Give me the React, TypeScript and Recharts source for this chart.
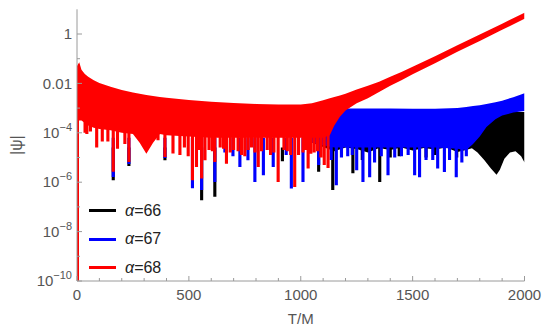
import { ComposedChart, Area, XAxis, YAxis, Legend } from 'recharts'

const FRAME = '#9a9a9a'
const TICK_TEXT = '#555555'
const FONT = '"Liberation Sans", Arial, sans-serif'

const RED = '#ff0000'
const BLUE = '#0000ff'
const BLACK = '#000000'

// envelopes of the oscillating |psi|, given as log10 values
const redT = [0, 10, 20, 35, 50, 75, 100, 150, 200, 250, 280, 310, 340, 370, 400, 500, 600, 700, 800, 900, 1000, 1050, 1100, 1130, 1150, 1175, 1200, 1250, 1300, 1350, 1400, 1450, 1500, 1600, 1700, 1800, 1900, 2000]
const redHi = [-1.3, -1.14, -1.45, -1.62, -1.73, -1.87, -1.98, -2.14, -2.27, -2.37, -2.42, -2.47, -2.51, -2.55, -2.58, -2.67, -2.74, -2.79, -2.83, -2.85, -2.85, -2.8, -2.68, -2.6, -2.55, -2.49, -2.42, -2.25, -2.1, -1.93, -1.73, -1.54, -1.33, -0.9, -0.46, -0.02, 0.42, 0.86]
const redLo = [-3.5, -3.5, -3.5, -3.6, -3.7, -3.8, -3.85, -3.9, -4.0, -4.05, -4.4, -4.85, -4.4, -4.05, -4.1, -4.15, -4.2, -4.2, -4.2, -4.2, -4.2, -4.2, -4.2, -4.1, -3.7, -3.35, -3.1, -2.8, -2.6, -2.35, -2.1, -1.87, -1.63, -1.18, -0.72, -0.28, 0.17, 0.62]

const blueT = [1050, 1100, 1150, 1200, 1300, 1400, 1500, 1600, 1700, 1740, 1770, 1800, 1830, 1870, 1900, 1950, 2000]
const blueHi = [-2.9, -2.95, -3.0, -3.02, -3.02, -3.02, -3.03, -3.03, -3.0, -2.96, -2.92, -2.88, -2.83, -2.76, -2.7, -2.56, -2.4]
const blueLo = [-4.4, -4.5, -4.6, -4.6, -4.6, -4.6, -4.6, -4.6, -4.65, -4.7, -4.45, -4.15, -3.77, -3.45, -3.3, -3.18, -3.12]

const blackT = [1050, 1150, 1200, 1250, 1300, 1350, 1400, 1450, 1500, 1550, 1600, 1650, 1700, 1730, 1765, 1790, 1820, 1850, 1875, 1890, 1910, 1935, 1960, 1985, 2000]
const blackHi = [-3.1, -3.16, -3.16, -3.16, -3.16, -3.16, -3.16, -3.16, -3.16, -3.16, -3.16, -3.16, -3.16, -3.16, -3.16, -3.16, -3.16, -3.16, -3.16, -3.16, -3.16, -3.16, -3.16, -3.16, -3.16]
const blackLo = [-4.4, -4.75, -4.6, -4.66, -4.8, -4.62, -4.7, -4.6, -4.72, -4.62, -4.68, -4.6, -4.78, -4.72, -4.63, -4.8, -5.1, -5.45, -5.7, -5.5, -5.05, -4.8, -4.75, -4.95, -5.2]

// deep minima (the downward spikes): time and log10 of the bottom
const redSpikeT = [2, 36, 44, 60, 88, 113, 138, 162, 181, 214, 232, 362, 393, 429, 460, 480, 497, 516, 534, 545, 557, 572, 590, 605, 616, 640, 655, 668, 685, 700, 720, 735, 750, 765, 780, 795, 810, 825, 850, 865, 880, 899, 925, 940, 955, 973, 990, 1010, 1020, 1033, 1045, 1060, 1075, 1090, 1105, 1122]
const redSpikeLo = [-10, -4.0, -4.05, -3.95, -4.6, -4.35, -4.35, -5.58, -4.65, -4.45, -5.18, -4.3, -4.98, -4.84, -4.9, -4.6, -4.95, -5.92, -5.38, -4.7, -5.85, -5.11, -4.7, -4.75, -5.18, -4.6, -4.65, -5.25, -4.8, -4.7, -4.75, -4.9, -4.95, -4.7, -4.6, -4.8, -5.38, -4.75, -4.7, -4.9, -4.8, -5.99, -4.7, -4.75, -4.9, -6.19, -4.9, -4.8, -4.7, -5.45, -4.85, -4.8, -4.75, -5.0, -5.3, -5.43]

const blueSpikeT = [162, 232, 393, 516, 557, 616, 661, 697, 728, 764, 795, 833, 877, 935, 958, 1010, 1080, 1136, 1159, 1182, 1210, 1230, 1250, 1278, 1308, 1330, 1360, 1390, 1420, 1450, 1480, 1509, 1531, 1560, 1590, 1612, 1642, 1665, 1695, 1720, 1740]
const blueSpikeLo = [-5.79, -5.26, -5.02, -6.24, -6.32, -5.99, -4.8, -4.95, -5.38, -5.11, -5.99, -5.72, -5.38, -4.9, -6.26, -5.99, -5.3, -5.1, -6.12, -5.0, -4.95, -4.9, -5.52, -5.99, -5.8, -5.2, -4.95, -5.72, -5.0, -4.95, -4.9, -5.72, -5.8, -5.1, -5.1, -5.45, -5.59, -5.1, -5.8, -5.2, -4.95]

const blackSpikeT = [162, 232, 393, 557, 616, 918, 1080, 1143, 1233, 1275, 1353, 1400, 1440, 1560, 1600, 1697]
const blackSpikeLo = [-5.92, -5.34, -5.11, -6.73, -6.59, -5.15, -5.58, -6.32, -5.64, -5.1, -5.99, -5.0, -4.95, -5.0, -4.9, -5.0]

// upper end of each spike slab, kept below the band drawn over it
const RED_SPIKE_TOP = 10 ** -3.4
const BLUE_SPIKE_TOP = 10 ** -4.2
const BLACK_SPIKE_TOP = 10 ** -4.6
const SPIKE_HALF = 7 // half width of a spike, in T/M

const alphas = [66, 67, 68]
const seriesColors = [BLACK, BLUE, RED]

const xTicks = [0, 100, 200, 300, 400, 500, 600, 700, 800, 900, 1000, 1100, 1200, 1300, 1400, 1500, 1600, 1700, 1800, 1900, 2000]
const yTicks = [1e-10, 1e-9, 1e-8, 1e-7, 1e-6, 1e-5, 1e-4, 1e-3, 1e-2, 1e-1, 1]

const band = (ts: number[], lo: number[], hi: number[]) =>
  ts.map((t, i) => ({ t, v: [10 ** lo[i], 10 ** hi[i]] }))

// every spike is a thin range-area slab, slabs separated by null rows
const spikes = (ts: number[], lo: number[], top: number) =>
  ts.flatMap((t, i) => [
    { t: Math.max(0, t - SPIKE_HALF), v: [10 ** lo[i], top] },
    { t: t + SPIKE_HALF, v: [10 ** lo[i], top] },
    { t: t + SPIKE_HALF, v: null },
  ])

const expOf = (v: number) => Math.round(Math.log10(v))

function BottomTick({ x, y, payload }: any) {
  const major = payload.value % 500 === 0
  return (
    <g>
      <line x1={x} x2={x} y1={y} y2={y - (major ? 5 : 3)} stroke={FRAME} />
      {major && (
        <text x={x} y={y + 14} dy="0.35em" textAnchor="middle" fill={TICK_TEXT} fontSize={15} fontFamily={FONT}>
          {payload.value}
        </text>
      )}
    </g>
  )
}

function TopTick({ x, y, payload }: any) {
  const major = payload.value % 500 === 0
  return <line x1={x} x2={x} y1={y} y2={y + (major ? 5 : 3)} stroke={FRAME} />
}

function LeftTick({ x, y, payload }: any) {
  const e = expOf(payload.value)
  const major = e % 2 === 0
  const ax = x + 5
  let label = null
  if (major) {
    if (e === 0 || e === -2) {
      label = (
        <text x={x} y={y} dy="0.35em" textAnchor="end" fill={TICK_TEXT} fontSize={15} fontFamily={FONT}>
          {e === 0 ? '1' : '0.01'}
        </text>
      )
    } else {
      label = (
        <text x={x} y={y} dy="0.35em" textAnchor="end" fill={TICK_TEXT} fontSize={15} fontFamily={FONT}>
          <tspan>10</tspan>
          <tspan dy={-7} fontSize={11}>{'−' + -e}</tspan>
        </text>
      )
    }
  }
  return (
    <g>
      <line x1={ax} x2={ax + (major ? 5 : 3)} y1={y} y2={y} stroke={FRAME} />
      {label}
    </g>
  )
}

function RightTick({ x, y, payload }: any) {
  const major = expOf(payload.value) % 2 === 0
  return <line x1={x} x2={x - (major ? 5 : 3)} y1={y} y2={y} stroke={FRAME} />
}

function YTitle({ viewBox }: any) {
  const cx = viewBox.x + 8
  const cy = viewBox.y + viewBox.height / 2
  return (
    <text x={cx} y={cy} dy="0.35em" textAnchor="middle" transform={`rotate(-90 ${cx} ${cy})`} fill={TICK_TEXT} fontSize={16} fontFamily={FONT}>
      |ψ|
    </text>
  )
}

function XTitle({ viewBox }: any) {
  return (
    <text x={viewBox.x + viewBox.width / 2} y={viewBox.y + 38} dy="0.35em" textAnchor="middle" fill={TICK_TEXT} fontSize={15} fontFamily={FONT}>
      T/M
    </text>
  )
}

function LegendBox() {
  return (
    <div style={{ fontFamily: FONT, fontSize: 16, color: '#222' }}>
      {alphas.map((a, i) => (
        <div key={a} style={{ display: 'flex', alignItems: 'center', height: 28.5 }}>
          <span style={{ display: 'inline-block', width: 27, height: 3, background: seriesColors[i], marginRight: 9 }} />
          <span>
            <i>α</i>={a}
          </span>
        </div>
      ))}
    </div>
  )
}

export default function App() {
  // painted bottom to top: alpha=66 under 67 under 68
  const layers = [
    { key: 'blackBand', data: band(blackT, blackLo, blackHi), color: BLACK },
    { key: 'blackSpikes', data: spikes(blackSpikeT, blackSpikeLo, BLACK_SPIKE_TOP), color: BLACK },
    { key: 'blueBand', data: band(blueT, blueLo, blueHi), color: BLUE },
    { key: 'blueSpikes', data: spikes(blueSpikeT, blueSpikeLo, BLUE_SPIKE_TOP), color: BLUE },
    { key: 'redBand', data: band(redT, redLo, redHi), color: RED },
    { key: 'redSpikes', data: spikes(redSpikeT, redSpikeLo, RED_SPIKE_TOP), color: RED },
  ]
  return (
    <ComposedChart width={542} height={326} margin={{ top: 1.3, right: 25.5, bottom: 0, left: 0 }}>
      <XAxis
        xAxisId="b"
        dataKey="t"
        type="number"
        domain={[0, 2000]}
        allowDataOverflow
        ticks={xTicks}
        interval={0}
        height={53}
        tickSize={0}
        tickMargin={0}
        tickLine={false}
        stroke={FRAME}
        tick={<BottomTick />}
        label={<XTitle />}
      />
      <XAxis
        xAxisId="top"
        orientation="top"
        dataKey="t"
        type="number"
        domain={[0, 2000]}
        allowDataOverflow
        ticks={xTicks}
        interval={0}
        height={0}
        tickSize={0}
        tickMargin={0}
        tickLine={false}
        stroke={FRAME}
        tick={<TopTick />}
      />
      <YAxis
        yAxisId="l"
        scale="log"
        type="number"
        domain={[1e-10, 10]}
        allowDataOverflow
        ticks={yTicks}
        interval={0}
        width={69}
        tickSize={0}
        tickMargin={5}
        tickLine={false}
        stroke={FRAME}
        tick={<LeftTick />}
        label={<YTitle />}
      />
      <YAxis
        yAxisId="r"
        orientation="right"
        scale="log"
        type="number"
        domain={[1e-10, 10]}
        allowDataOverflow
        ticks={yTicks}
        interval={0}
        width={0}
        tickSize={0}
        tickMargin={0}
        tickLine={false}
        stroke={FRAME}
        tick={<RightTick />}
      />

      {layers.map((l, i) => (
        <Area
          key={l.key}
          xAxisId="b"
          yAxisId="l"
          data={l.data}
          dataKey="v"
          type="linear"
          stroke="none"
          fill={l.color}
          fillOpacity={1}
          connectNulls={false}
          zIndex={101 + i}
          isAnimationActive={false}
          activeDot={false}
        />
      ))}

      <Legend
        layout="horizontal"
        verticalAlign="middle"
        align="center"
        content={<LegendBox />}
        wrapperStyle={{ left: 81, top: 188.5, width: 'auto', height: 'auto' }}
      />
    </ComposedChart>
  )
}
